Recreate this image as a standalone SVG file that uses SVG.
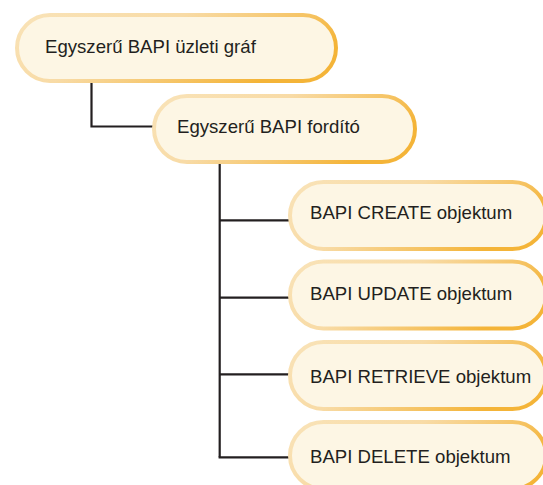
<svg xmlns="http://www.w3.org/2000/svg" width="543" height="485" viewBox="0 0 543 485">
<defs>
<linearGradient id="edge" x1="0" y1="0" x2="1" y2="0.4">
<stop offset="0" stop-color="#f9e3b8"/>
<stop offset="0.45" stop-color="#f8dba6"/>
<stop offset="1" stop-color="#f4b438"/>
</linearGradient>
</defs>
<style>
.node rect{fill:#fdf6e4;stroke:url(#edge);stroke-width:4}
.node text{font-family:"Liberation Sans",Arial,sans-serif;font-size:18.6px;fill:#231f20}
.conn{fill:none;stroke:#231f20;stroke-width:2.2}
</style>
<g id="connectors">
<path class="conn" d="M91.5 83 V126.5 H153"/>
<path class="conn" d="M219.7 164 V457.3"/>
<path class="conn" d="M219.7 220.3 H289"/>
<path class="conn" d="M219.7 297.7 H289"/>
<path class="conn" d="M219.7 374.3 H289"/>
<path class="conn" d="M218.6 457.3 H289"/>
</g>
<g id="node-graf" class="node">
<rect x="17" y="15" width="319" height="66" rx="33"/>
<text x="45" y="52.5">Egyszerű BAPI üzleti gráf</text>
</g>
<g id="node-fordito" class="node">
<rect x="154" y="96" width="261" height="66" rx="33"/>
<text x="177" y="133">Egyszerű BAPI fordító</text>
</g>
<g id="node-create" class="node">
<rect x="290" y="182" width="256" height="67" rx="33.5"/>
<text x="310" y="219">BAPI CREATE objektum</text>
</g>
<g id="node-update" class="node">
<rect x="290" y="261.5" width="256" height="67" rx="33.5"/>
<text x="310" y="300">BAPI UPDATE objektum</text>
</g>
<g id="node-retrieve" class="node">
<rect x="290" y="342" width="256" height="67" rx="33.5"/>
<text x="310" y="382.5">BAPI RETRIEVE objektum</text>
</g>
<g id="node-delete" class="node">
<rect x="290" y="422" width="256" height="67" rx="33.5"/>
<text x="310" y="462.5">BAPI DELETE objektum</text>
</g>
</svg>
